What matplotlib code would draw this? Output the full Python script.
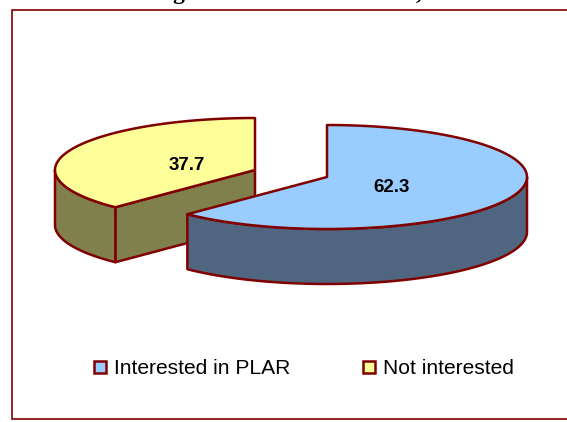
import numpy as np
import matplotlib
matplotlib.use("Agg")
import matplotlib.pyplot as plt
from matplotlib.patches import Polygon, Rectangle

labels = ["Interested in PLAR", "Not interested"]
values = [62.3, 37.7]
top_colors = ["#99ccff", "#ffff99"]
side_colors = ["#4f6580", "#80804d"]
edge = "#800000"

rx, ry, depth = 200, 52, 55
centers = [(327, 177), (255, 170)]


def rim(cx, cy, a0, a1, n=100):
    # angles clockwise from 12 o'clock, degrees
    t = np.radians(np.linspace(a0, a1, n))
    return np.column_stack([cx + rx * np.sin(t), cy - ry * np.cos(t)])


def add_poly(ax, pts, color):
    ax.add_patch(Polygon(pts, closed=True, facecolor=color, edgecolor=edge,
                         linewidth=1.8, joinstyle="round"))


fig = plt.figure(figsize=(5.67, 4.22), dpi=100)
ax = fig.add_axes([0, 0, 1, 1])
ax.set_xlim(0, 567)
ax.set_ylim(422, 0)
ax.axis("off")

# chart area frame runs off the right edge
ax.add_patch(Rectangle((12, 9.5), 570, 409.5, facecolor="white", edgecolor=edge, linewidth=1.2))

# only the bottom of the title line is left inside the picture
for x, s in [(178, "g"), (419, ",")]:
    ax.text(x, -1, s, fontsize=17, fontweight="bold", family="Liberation Serif",
            ha="center", va="baseline", color="black", clip_on=True)

split = values[0] / sum(values) * 360

# yellow slice first, the blue one sits in front of it
cx, cy = centers[1]
arc = rim(cx, cy, split, 360)
start = arc[0]
add_poly(ax, [(cx, cy), start, start + (0, depth), (cx, cy + depth)], side_colors[1])
left = rim(cx, cy, split, 270)
add_poly(ax, np.vstack([left, (left + (0, depth))[::-1]]), side_colors[1])
add_poly(ax, np.vstack([[(cx, cy)], arc]), top_colors[1])

cx, cy = centers[0]
front = rim(cx, cy, 90, split)
add_poly(ax, np.vstack([front, (front + (0, depth))[::-1]]), side_colors[0])
add_poly(ax, np.vstack([[(cx, cy)], rim(cx, cy, 0, split)]), top_colors[0])

ax.text(392, 187, f"{values[0]:.1f}", fontsize=13.5, fontweight="bold", family="Liberation Sans",
        ha="center", va="center", color="black")
ax.text(187, 165, f"{values[1]:.1f}", fontsize=13.5, fontweight="bold", family="Liberation Sans",
        ha="center", va="center", color="black")

# legend
for x, lab, col in [(94, labels[0], top_colors[0]), (363, labels[1], top_colors[1])]:
    ax.add_patch(Rectangle((x, 361), 12, 12, facecolor=col, edgecolor=edge, linewidth=1.8))
    ax.text(x + 20, 368.5, lab, fontsize=15.1, family="Liberation Sans", ha="left", va="center", color="black")

plt.savefig("out.png", dpi=100)
